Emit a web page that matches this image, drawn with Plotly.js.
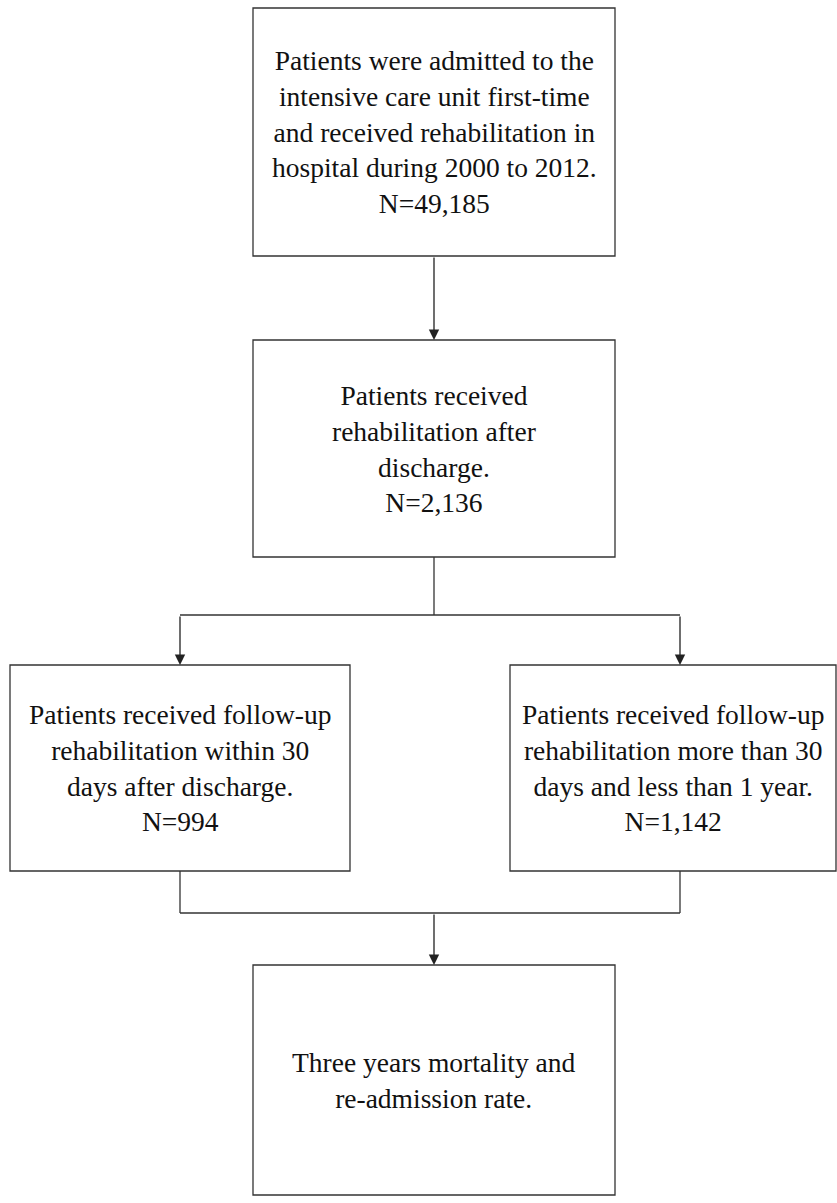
<html><head><script src="https://cdn.plot.ly/plotly-3.0.1.min.js"></script>
<style>body{margin:0}</style></head><body><div id="c" style="width:837px;height:1203px"></div><script>
const boxTexts = [
 "Patients were admitted to the<br>intensive care unit first-time<br>and received rehabilitation in<br>hospital during 2000 to 2012.",
 "Patients received<br>rehabilitation after<br>discharge.",
 "Patients received follow-up<br>rehabilitation within 30<br>days after discharge.",
 "Patients received follow-up<br>rehabilitation more than 30<br>days and less than 1 year.",
 "Three years mortality and<br>re-admission rate."
];
const boxN = ["49,185","2,136","994","1,142",null];
// layout geometry: [x0,x1,y0,y1]
const boxes = [[253,615,8,256],[253,615,340,557],[10,350,665,871],[510,836,665,871],[253,615,965,1195]];
const shapes=[], ann=[];
const line=(x0,y0,x1,y1)=>shapes.push({type:'line',x0,y0,x1,y1,line:{color:'#333',width:1.3}});
const arrow=(x,y0,y1)=>ann.push({x:x,y:y1,ax:x,ay:y0,axref:'x',ayref:'y',xref:'x',yref:'y',text:'',showarrow:true,arrowhead:2,arrowsize:1.6,arrowwidth:1.3,arrowcolor:'#222'});
boxes.forEach((b,i)=>{
 shapes.push({type:'rect',x0:b[0],x1:b[1],y0:b[2],y1:b[3],line:{color:'#333',width:1.3}});
 ann.push({x:(b[0]+b[1])/2,y:(b[2]+b[3])/2,xref:'x',yref:'y',showarrow:false,
  text:boxTexts[i]+(boxN[i]?"<br>N="+boxN[i]:""),font:{family:'Liberation Serif',size:27.5,color:'#111'},align:'center'});
});
arrow(434,256,340);
line(434,557,434,615);line(180,615,680,615);
arrow(180,615,665);arrow(680,615,665);
line(180,871,180,913);line(680,871,680,913);line(180,913,680,913);
arrow(434,913,965);
Plotly.newPlot('c',[],{width:837,height:1203,margin:{l:0,r:0,t:0,b:0},
 xaxis:{range:[0,837],visible:false},yaxis:{range:[1203,0],visible:false},
 shapes:shapes,annotations:ann,plot_bgcolor:'white',paper_bgcolor:'white'},{staticPlot:true});
</script></body></html>
